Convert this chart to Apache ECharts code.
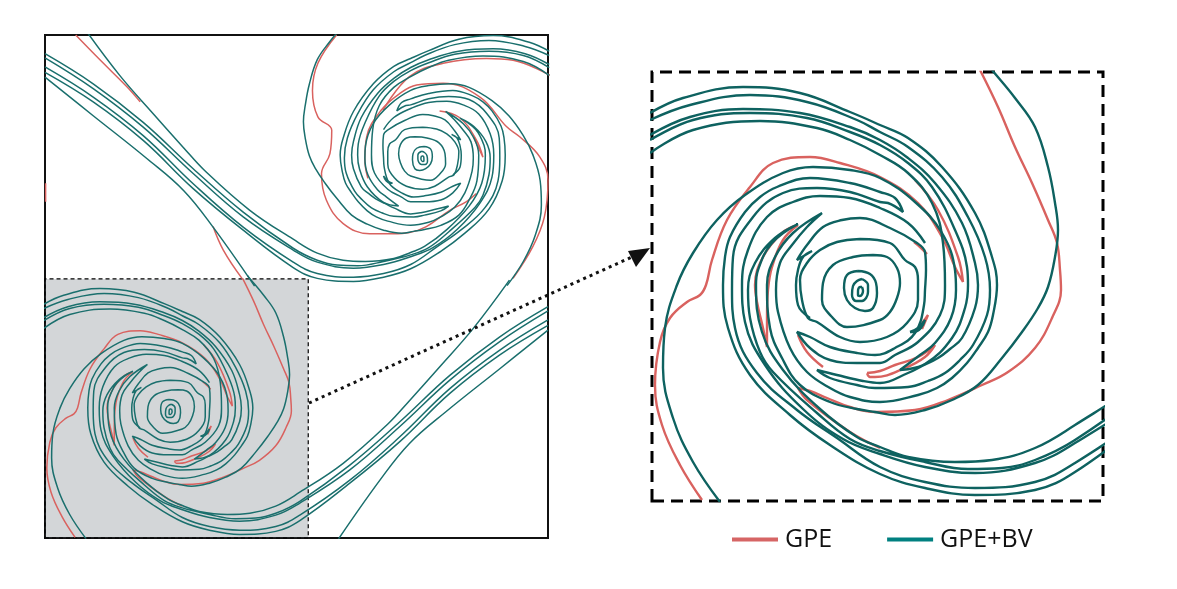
<!DOCTYPE html>
<html>
<head>
<meta charset="utf-8">
<title>GPE vs GPE+BV contours</title>
<script src="https://cdn.jsdelivr.net/npm/echarts@6/dist/echarts.min.js"></script>
<style>
  html, body { margin: 0; padding: 0; background: #fff; }
  #chart { width: 1177px; height: 589px; }
</style>
</head>
<body>
<div id="chart"></div>
<script>
// contours, in domain units (whole box is 835 x 835)
// the zoomed box shows x 0-451, y 0-429 of the same domain
var armA = [[336,436],[340,431],[363,403],[383,374],[396,334],[403,298],[406,271],[403,244],[396,214],[386,193],[370,169],[350,143],[326,116],[300,101],[273,91],[243,86],[223,89],[205,92],[178,99],[148,116],[130,143],[118,173],[115,216],[123,244],[141,268],[170,288],[155,274],[140,256],[128,238],[124,211],[126,189],[138,153],[155,129],[178,113],[198,104],[228,99],[266,106],[285,113],[300,123],[315,138],[326,153],[336,169],[341,186],[345,216],[340,244],[323,288],[290,334],[256,363],[228,376],[198,389],[148,408],[91,414],[31,403],[-2,388]];
var armB = [[68,-1],[41,39],[21,83],[11,133],[13,173],[25,216],[41,248],[65,281],[93,306],[131,328],[161,334],[198,331],[228,323],[263,299],[290,268],[303,231],[304,211],[299,183],[283,158],[268,146],[248,131],[273,137],[300,163],[313,193],[316,216],[315,234],[303,271],[280,314],[256,338],[228,356],[198,369],[155,383],[98,388],[41,381],[-2,361]];
var armC = [[-2,381],[38,396],[98,406],[155,399],[205,381],[228,369],[256,354],[290,324],[316,284],[333,244],[338,211],[335,186],[321,156],[308,141],[293,128],[276,120],[256,114],[223,113],[205,116],[178,123],[165,131],[185,126],[211,120],[228,118],[256,128],[270,135],[286,143],[298,152],[310,163],[323,193],[326,216],[323,238],[310,278],[283,318],[256,343],[228,361],[198,374],[148,388],[91,392],[38,384],[-2,366]];
var armD = [[158,183],[146,196],[144,216],[146,231],[151,244],[160,250],[145,241],[155,256],[171,274],[190,281],[208,283],[238,273],[265,258],[273,249],[274,231],[273,211],[272,196],[263,168],[243,153],[223,146],[205,148],[178,154],[158,164],[145,169],[158,153],[178,141],[205,138],[228,138],[243,146],[266,159],[288,186],[293,216],[291,258],[280,298],[256,328],[228,346],[198,361],[165,373],[108,380],[41,371],[-2,348]];
var armE = [[835,353],[755,304],[672,240],[589,160],[506,91],[423,29],[383,11],[323,6],[273,13],[228,27],[178,56],[138,86],[98,126],[76,173],[71,216],[73,244],[78,264],[93,289],[108,304],[125,314],[158,323],[198,318],[228,309],[243,303],[251,289],[236,298],[228,299],[198,309],[165,313],[131,308],[101,284],[81,244],[80,211],[83,173],[105,128],[145,91],[185,63],[228,34],[273,19],[323,13],[383,19],[423,38],[506,96],[589,168],[672,248],[755,312],[835,362]];
var armF = [[835,377],[755,326],[672,262],[589,185],[506,113],[423,58],[383,38],[323,28],[273,34],[228,47],[191,62],[151,92],[113,136],[93,179],[90,216],[96,251],[115,284],[141,299],[168,305],[198,303],[228,293],[256,278],[273,258]];
var armG = [[771,428],[711,348],[655,284],[605,228],[570,190],[495,124],[423,76],[383,53],[340,41],[303,39],[256,44],[228,54],[205,64],[168,92],[131,131],[110,169],[104,216],[106,231],[120,258],[146,277],[123,263],[103,238],[96,211],[98,183],[108,149],[121,129],[165,88],[198,62],[228,50],[273,39],[316,32],[350,33],[383,41],[423,61],[506,121],[589,193],[672,270],[755,334],[835,384]];
var armH = [[487,-2],[556,96],[605,157],[666,210],[755,281],[835,345]];
var ring1 = [[210,214],[211,210],[208,205],[206,206],[206,210],[208,214],[210,214]];
var ring2 = [[210,222],[216,216],[216,209],[210,200],[204,200],[200,206],[201,215],[205,220],[210,222]];
var ring3 = [[206,230],[218,227],[224,218],[225,208],[221,193],[213,190],[203,193],[195,201],[192,213],[195,226],[206,230]];
var ring4 = [[221,246],[235,244],[245,233],[248,218],[245,203],[238,189],[228,181],[195,174],[180,184],[170,201],[171,218],[181,236],[201,244],[221,246]];
var ring5 = [[208,262],[238,258],[253,241],[263,234],[266,221],[266,201],[255,178],[235,164],[208,159],[188,164],[165,179],[156,183],[150,201],[148,221],[155,238],[168,251],[185,259],[208,262]];
var sliver = [[258,169],[266,173],[273,181],[269,173],[262,169],[258,169]];

// GPE curves of the lower left vortex, these also show in the zoom
var redA = [[328,431],[346,394],[363,354],[380,318],[396,281],[405,258],[408,231],[409,211],[400,183],[383,153],[356,129],[330,116],[296,101],[263,91],[223,89],[198,94],[175,103],[158,110],[146,113],[155,101],[198,69],[228,53]];
var redB = [[50,1],[28,36],[10,76],[3,116],[8,159],[18,183],[35,199],[48,206],[54,216],[60,241],[75,281],[98,314],[121,338],[158,344],[188,338],[228,324],[266,298],[290,264],[303,234],[311,219],[306,244],[286,291],[263,321]];
var redC = [[146,276],[131,261],[120,234],[116,211],[115,183],[115,154],[111,173],[105,199],[103,216],[111,244],[130,268],[146,276]];
var redD = [[215,128],[228,130],[243,136],[266,144],[283,156],[273,144],[253,133],[223,124],[218,124],[215,128]];
var redE = [[262,259],[268,254],[275,247]];
var redF = [[266,172],[276,186],[270,172]];
var redG = [[146,166],[155,149],[171,134]];

// GPE curves of the upper half, not in the zoom
var topA = [[484,835],[453,788],[444,743],[453,699],[476,677],[473,638],[459,605],[467,561],[495,522],[539,505],[578,505],[605,507],[633,517],[672,544],[699,558],[716,572]];
var topB = [[536,597],[531,627],[534,666],[558,710],[589,738],[617,752],[661,755],[722,732],[766,683],[788,666],[821,633],[835,594],[829,533],[810,484],[777,431]];
var topC = [[655,709],[688,698],[716,661],[727,632],[711,666]];
var topD = [[838,768],[777,793],[733,796],[661,788],[605,766],[561,710]];
var topE = [[1,589],[1,558]];
var topF = [[51,835],[92,793],[136,749],[158,724]];
var topG = [[279,517],[296,478],[327,431]];

var legendNames = ["GPE", "GPE+BV"];
var greenCurves = [armA, armB, armC, armD, armE, armF, armG, armH, ring1, ring2, ring3, ring4, ring5, sliver];
var redCurves = [redA, redB, redC, redD, redE, redF, redG];
var redTopCurves = [topA, topB, topC, topD, topE, topF, topG];

var RED = "#d9625f";
var TEAL_THIN = "#1a6f6d";
var TEAL_WIDE = "#0e6260";

function lineSeries(name, curve, grid, color, width) {
  return {
    name: name,
    type: "line",
    xAxisIndex: grid,
    yAxisIndex: grid,
    data: curve,
    smooth: 0.4,
    symbol: "none",
    silent: true,
    z: 2,
    lineStyle: { color: color, width: width }
  };
}

var series = [];
// left box: lower half on grid 0, the upper half is its mirror on grid 1
redCurves.concat(redTopCurves).forEach(function (c) {
  series.push(lineSeries("GPE", c, 0, RED, 1.5));
});
greenCurves.forEach(function (c) {
  series.push(lineSeries("GPE+BV", c, 0, TEAL_THIN, 1.5));
  series.push(lineSeries("GPE+BV", c, 1, TEAL_THIN, 1.5));
});
// zoomed box
redCurves.forEach(function (c) {
  series.push(lineSeries("GPE", c, 2, RED, 2.4));
});
greenCurves.forEach(function (c) {
  series.push(lineSeries("GPE+BV", c, 2, TEAL_WIDE, 2.4));
});

// grey region of the left box and dashed frame of the zoom
series.push({
  type: "line",
  name: "region",
  xAxisIndex: 0,
  yAxisIndex: 0,
  data: [],
  z: 5,
  markArea: {
    silent: true,
    itemStyle: { color: "rgba(70,82,90,0.24)", borderColor: "#000", borderWidth: 1.2, borderType: [4, 3] },
    data: [[{ coord: [0, 0] }, { coord: [437, 430] }]]
  }
});
series.push({
  type: "line",
  name: "frame",
  xAxisIndex: 2,
  yAxisIndex: 2,
  data: [],
  clip: false,
  z: 6,
  markArea: {
    silent: true,
    itemStyle: { color: "rgba(0,0,0,0)", borderColor: "#000", borderWidth: 3, borderType: [12, 7] },
    data: [[{ coord: [0, 0] }, { coord: [451, 429] }]]
  }
});

function hiddenAxis(min, max, inverse) {
  return { type: "value", show: false, min: min, max: max, inverse: !!inverse, scale: true };
}

var myChart = echarts.init(document.getElementById("chart"), null, { renderer: "canvas" });
myChart.setOption({
  animation: false,
  backgroundColor: "#fff",
  textStyle: { fontFamily: "Open Sans" },
  grid: [
    { left: 45, top: 35, width: 503, height: 503, show: true, borderColor: "#111", borderWidth: 2, backgroundColor: "transparent" },
    { left: 45, top: 35, width: 503, height: 503 },
    { left: 652, top: 72, width: 451, height: 429 }
  ],
  xAxis: [
    Object.assign(hiddenAxis(0, 835), { gridIndex: 0 }),
    Object.assign(hiddenAxis(0, 835, true), { gridIndex: 1 }),
    Object.assign(hiddenAxis(0, 451), { gridIndex: 2 })
  ],
  yAxis: [
    Object.assign(hiddenAxis(0, 835), { gridIndex: 0 }),
    Object.assign(hiddenAxis(-420, 415), { gridIndex: 1 }),
    Object.assign(hiddenAxis(0, 429), { gridIndex: 2 })
  ],
  legend: {
    left: 727,
    top: 522,
    icon: "rect",
    itemWidth: 46,
    itemHeight: 4,
    itemGap: 55,
    selectedMode: false,
    textStyle: { fontFamily: "Open Sans", fontSize: 25, color: "#111", padding: [0, 0, 0, 2] },
    data: [
      { name: legendNames[0], itemStyle: { color: "#d66565" } },
      { name: legendNames[1], itemStyle: { color: "#008080" } }
    ]
  },
  // arrow from the grey region to the zoom
  graphic: [
    {
      type: "line",
      silent: true,
      z: 20,
      shape: { x1: 309, y1: 403, x2: 634, y2: 256 },
      style: { stroke: "#111", lineWidth: 3, lineDash: [3, 4] }
    },
    {
      type: "polygon",
      silent: true,
      z: 20,
      shape: { points: [[650, 248], [628, 251], [636, 267]] },
      style: { fill: "#111" }
    }
  ],
  series: series
});

window.addEventListener("resize", () => {
  myChart.resize();
});
</script>
</body>
</html>
